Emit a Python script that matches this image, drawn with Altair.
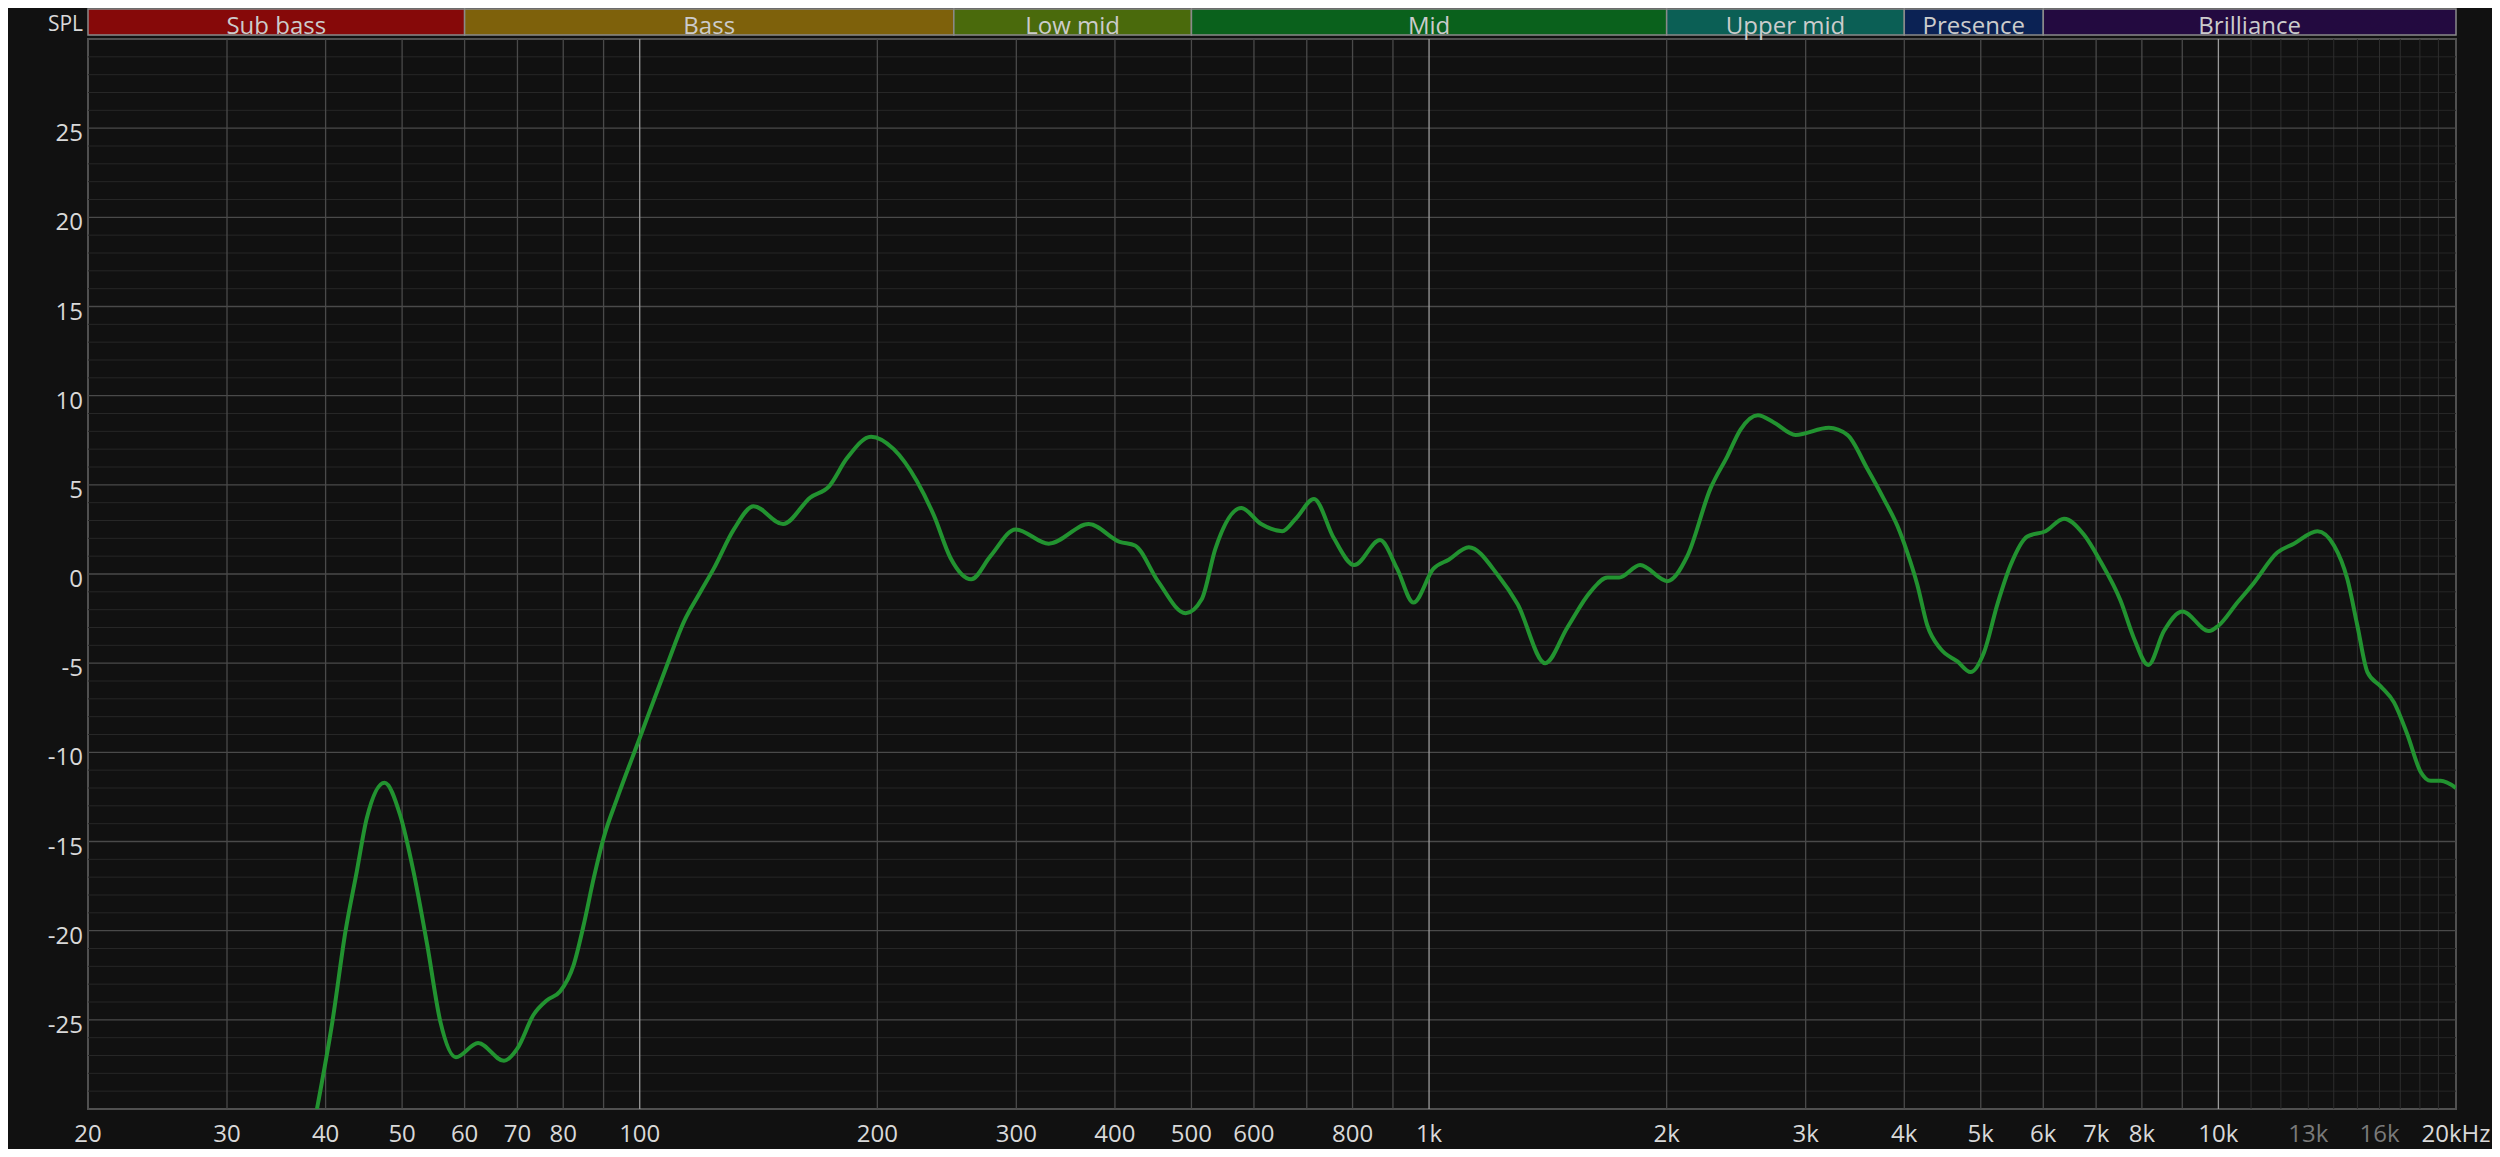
import math
import altair as alt
import pandas as pd

# ---------------- data ----------------
freq = [39.0, 40.8, 42.4, 43.8, 45.1, 47.5, 49.7, 51.7, 53.8, 55.9, 58.5, 62.4, 67.3, 70.0,
        73.4, 76.3, 79.3, 82.5, 84.9, 87.5, 90.0, 93.6, 100.0, 108.3, 113.7, 119.4, 124.1,
        131.6, 139.4, 151.9, 164.6, 173.6, 183.1, 196.4, 209.8, 224.5, 235.8, 247.6, 263.0,
        278.2, 299.3, 329.8, 370.6, 405.6, 424.1, 453.4, 491.5, 515.4, 536.0, 578.2, 612.8,
        651.7, 677.8, 714.9, 757.7, 803.9, 866.7, 910.9, 955.6, 1013, 1059, 1123, 1224, 1295,
        1403, 1497, 1601, 1683, 1741, 1851, 2004, 2124, 2273, 2387, 2481, 2610, 2734, 2913,
        3210, 3388, 3591, 3769, 3920, 4036, 4155, 4279, 4447, 4670, 4853, 5047, 5248, 5455,
        5727, 6040, 6374, 6757, 7092, 7518, 7816, 8151, 8531, 9000, 9727, 10000, 10570, 11090,
        11876, 12464, 13350, 14010, 14570, 15000, 15445, 16054, 16690, 17354, 18043, 18580,
        19130, 20000]
spl = [-30.0, -25.1, -20.0, -16.7, -13.7, -11.7, -13.5, -16.7, -20.8, -25.1, -27.1, -26.3,
       -27.3, -26.6, -24.7, -23.9, -23.4, -21.9, -19.7, -17.0, -14.8, -12.6, -9.2, -5.1, -2.7,
       -1.0, 0.3, 2.5, 3.8, 2.8, 4.3, 4.9, 6.5, 7.7, 7.0, 5.2, 3.3, 0.9, -0.3, 1.0, 2.5, 1.7,
       2.8, 1.8, 1.6, -0.4, -2.2, -1.4, 1.4, 3.7, 2.8, 2.4, 3.1, 4.2, 2.0, 0.5, 1.9, 0.3, -1.6,
       0.3, 0.8, 1.5, -0.1, -1.7, -5.0, -3.0, -1.0, -0.2, -0.2, 0.5, -0.4, 1.0, 4.8, 6.6, 8.1,
       8.9, 8.5, 7.8, 8.2, 7.8, 5.9, 4.2, 2.7, 1.2, -0.6, -2.9, -4.2, -4.9, -5.5, -4.4, -1.7,
       0.5, 2.1, 2.4, 3.1, 2.2, 0.7, -1.5, -3.6, -5.1, -3.2, -2.1, -3.2, -2.9, -1.6, -0.5,
       1.2, 1.7, 2.4, 1.6, -0.3, -2.9, -5.5, -6.3, -7.2, -9.0, -11.1, -11.6, -11.6, -12.0]

band_names = ["Sub bass", "Bass", "Low mid", "Mid", "Upper mid", "Presence", "Brilliance"]
band_lo = [20, 60, 250, 500, 2000, 4000, 6000]
band_hi = [60, 250, 500, 2000, 4000, 6000, 20000]
band_colors = ["#860909", "#7e610b", "#4a6a0c", "#0a611c", "#0b5f55", "#0b2254", "#230a40"]

x_tick_vals = [20, 30, 40, 50, 60, 70, 80, 100, 200, 300, 400, 500, 600, 800, 1000, 2000,
               3000, 4000, 5000, 6000, 7000, 8000, 10000, 13000, 16000, 20000]
x_tick_labels = ["20", "30", "40", "50", "60", "70", "80", "100", "200", "300", "400", "500",
                 "600", "800", "1k", "2k", "3k", "4k", "5k", "6k", "7k", "8k", "10k", "13k",
                 "16k", "20kHz"]
x_tick_dim = [False] * 23 + [True, True, False]

y_tick_vals = [25, 20, 15, 10, 5, 0, -5, -10, -15, -20, -25]

grid_f_bright = [100, 1000, 10000]
grid_f = [30, 40, 50, 60, 70, 80, 90, 200, 300, 400, 500, 600, 700, 800, 900,
          2000, 3000, 4000, 5000, 6000, 7000, 8000, 9000]
grid_f_dim = [11000, 12000, 13000, 14000, 15000, 16000, 17000, 18000, 19000]
grid_db_major = [-25, -20, -15, -10, -5, 0, 5, 10, 15, 20, 25]
grid_db_minor = [d for d in range(-29, 30) if d % 5 != 0]

# ---------------- layout ----------------
W, H = 2368, 1070
FONT = "Open Sans"
xs = alt.Scale(type="log", domain=[20, 20000], nice=False)
ys = alt.Scale(domain=[-30, 30], nice=False, zero=False)

curve = pd.DataFrame({"f": freq, "db": spl})
bands = pd.DataFrame({"name": band_names, "lo": band_lo, "hi": band_hi})
bands["mid"] = [math.sqrt(a * b) for a, b in zip(band_lo, band_hi)]
xlab = pd.DataFrame({"f": x_tick_vals, "label": x_tick_labels,
                     "dim": ["d" if d else "n" for d in x_tick_dim]})
ylab = pd.DataFrame({"db": y_tick_vals, "label": [str(v) for v in y_tick_vals]})


def vrules(vals, color, width=1.0):
    return alt.Chart(pd.DataFrame({"f": vals})).mark_rule(
        color=color, strokeWidth=width).encode(x=alt.X("f:Q", scale=xs, axis=None))


def hrules(vals, color, width=1.0):
    return alt.Chart(pd.DataFrame({"db": vals})).mark_rule(
        color=color, strokeWidth=width).encode(y=alt.Y("db:Q", scale=ys, axis=None))


layers = [
    hrules(grid_db_minor, "#272727"),
    vrules(grid_f_dim, "#2e2e2e"),
    hrules(grid_db_major, "#4a4a4a", 1.3),
    vrules(grid_f, "#4a4a4a", 1.3),
    vrules(grid_f_bright, "#9a9a9a", 1.3),
    alt.Chart(curve).mark_line(color="#229330", strokeWidth=4, interpolate="monotone",
                               clip=True).encode(
        x=alt.X("f:Q", scale=xs, axis=None), y=alt.Y("db:Q", scale=ys, axis=None)),
    # band bar
    alt.Chart(bands).mark_rect(stroke="#8a8a8a", strokeWidth=1.5).encode(
        x=alt.X("lo:Q", scale=xs, axis=None), x2="hi:Q",
        y=alt.value(-30), y2=alt.value(-4),
        color=alt.Color("name:N", scale=alt.Scale(domain=band_names, range=band_colors),
                        legend=None)),
    alt.Chart(bands).mark_text(font=FONT, fontSize=24, color="#cccccc",
                               baseline="alphabetic", align="center").encode(
        x=alt.X("mid:Q", scale=xs, axis=None), y=alt.value(-5), text="name:N"),
    # x tick labels
    alt.Chart(xlab).mark_text(font=FONT, fontSize=24, baseline="alphabetic",
                              align="center").encode(
        x=alt.X("f:Q", scale=xs, axis=None), y=alt.value(H + 33), text="label:N",
        color=alt.Color("dim:N", scale=alt.Scale(domain=["n", "d"],
                                                  range=["#d9d9d9", "#7a7a7a"]),
                        legend=None)),
    # y tick labels
    alt.Chart(ylab).mark_text(font=FONT, fontSize=24, baseline="alphabetic", align="right",
                              dy=13, color="#d9d9d9").encode(
        y=alt.Y("db:Q", scale=ys, axis=None), x=alt.value(-5), text="label:N"),
    alt.Chart(pd.DataFrame({"t": ["SPL"]})).mark_text(
        font=FONT, fontSize=21, baseline="alphabetic", align="right",
        color="#d9d9d9").encode(x=alt.value(-5), y=alt.value(-8), text="t:N"),
]

chart = alt.layer(*layers).resolve_scale(color="independent").properties(
    width=W, height=H,
    padding={"left": 80, "top": 31, "right": 36, "bottom": 40},
    autosize=alt.AutoSizeParams(type="none"),
    background="#111111",
).configure_view(stroke="#505050", strokeWidth=2, fill="#111111")

chart.save("out.html", embed_options={"renderer": "svg", "actions": False})
